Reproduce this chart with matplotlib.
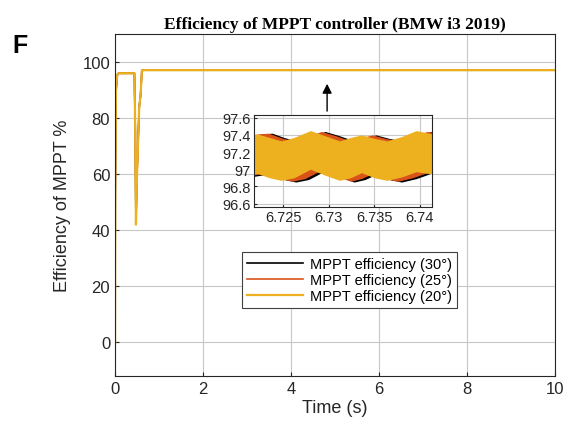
import matplotlib.pyplot as plt
import numpy as np

plt.rcParams['font.family'] = ['Liberation Sans', 'DejaVu Sans']

# main traces (time in s, efficiency in %)
t_main = [0, 0.005, 0.02, 0.05, 0.08, 0.44, 0.46, 0.475, 0.50, 0.55, 0.58, 0.61, 0.65, 10]
eff_30 = [0, 54, 89, 95.3, 96, 96, 76, 43, 61, 84, 88, 96.9, 97.1, 97.1]
eff_25 = [0, 55, 90, 95.4, 96, 96, 75, 42.5, 60, 84, 88, 97.0, 97.1, 97.1]
eff_20 = [0, 55, 90, 95.5, 96, 96, 75, 42, 60, 84, 88, 97.0, 97.1, 97.1]

# zoomed band envelopes around t = 6.73 s
t_z20 = [6.7210, 6.7222, 6.7235, 6.7248, 6.7262, 6.7280, 6.7296, 6.7312,
         6.7324, 6.7336, 6.7350, 6.7364, 6.7380, 6.7396, 6.7410, 6.7422]
hi_20 = [97.39, 97.41, 97.37, 97.33, 97.37, 97.45, 97.39, 97.33,
         97.37, 97.40, 97.36, 97.33, 97.38, 97.45, 97.42, 97.39]
lo_20 = [96.93, 96.95, 96.90, 96.87, 96.90, 97.00, 96.93, 96.87,
         96.90, 96.96, 96.90, 96.87, 96.91, 96.97, 96.95, 96.93]

t_z25 = [6.7198, 6.7210, 6.7222, 6.7234, 6.7247, 6.7260, 6.7274, 6.7292, 6.7308, 6.7324,
         6.7336, 6.7348, 6.7362, 6.7376, 6.7392, 6.7408, 6.7422]
hi_25 = [97.42, 97.39, 97.41, 97.42, 97.37, 97.33, 97.37, 97.44, 97.39, 97.33,
         97.37, 97.40, 97.36, 97.33, 97.38, 97.44, 97.42]
lo_25 = [96.92, 96.92, 96.94, 96.95, 96.89, 96.86, 96.89, 96.99, 96.92, 96.86,
         96.89, 96.95, 96.89, 96.86, 96.90, 96.96, 96.94]

t_z30 = [6.7202, 6.7214, 6.7226, 6.7238, 6.7251, 6.7264, 6.7278, 6.7296, 6.7312, 6.7328,
         6.7340, 6.7352, 6.7366, 6.7380, 6.7396, 6.7412, 6.7426]
hi_30 = [97.42, 97.39, 97.41, 97.42, 97.37, 97.33, 97.37, 97.44, 97.39, 97.33,
         97.37, 97.40, 97.36, 97.33, 97.38, 97.44, 97.42]
lo_30 = [96.91, 96.91, 96.93, 96.94, 96.88, 96.85, 96.88, 96.98, 96.91, 96.85,
         96.88, 96.94, 96.88, 96.85, 96.89, 96.95, 96.93]

c30, c25, c20 = '#000000', '#D95319', '#EDB120'
gridc = '#c8c8c8'

fig = plt.figure(figsize=(5.81, 4.27), dpi=100)
ax = fig.add_axes([0.198, 0.117, 0.757, 0.801])

ax.plot(t_main, eff_30, color=c30, lw=1.2, label="MPPT efficiency (30°)")
ax.plot(t_main, eff_25, color=c25, lw=1.2, label="MPPT efficiency (25°)")
ax.plot(t_main, eff_20, color=c20, lw=1.6, label="MPPT efficiency (20°)")

ax.set_xlim(0, 10)
ax.set_ylim(-12, 110)
ax.set_xticks(np.arange(0, 11, 2))
ax.set_yticks(np.arange(0, 101, 20))
ax.grid(True, color=gridc, lw=0.8)
ax.tick_params(direction='in', length=3, labelsize=12, colors='#262626')
for s in ax.spines.values():
    s.set_color('#262626')
    s.set_linewidth(0.8)
ax.set_xlabel("Time (s)", fontsize=13, color='#262626', labelpad=2)
ax.set_ylabel("Efficiency of MPPT %", fontsize=13, color='#262626', labelpad=8)
ax.set_title("Efficiency of MPPT controller (BMW i3 2019)", family='Liberation Serif',
             fontweight='bold', fontsize=12.5, pad=4)

leg = ax.legend(loc='upper left', bbox_to_anchor=(0.289, 0.363), fontsize=10.5,
                frameon=True, fancybox=False, edgecolor='#404040', framealpha=1,
                handlelength=3.8, borderpad=0.35, labelspacing=0.15, handletextpad=0.5,
                borderaxespad=0)
leg.get_frame().set_linewidth(0.8)

fig.text(0.022, 0.875, "F", fontsize=18, fontweight='bold', family='Liberation Sans')

# zoomed inset
axin = fig.add_axes([0.437, 0.513, 0.306, 0.215])
axin.fill_between(t_z30, lo_30, hi_30, color=c30, lw=0)
axin.fill_between(t_z25, lo_25, hi_25, color=c25, lw=0)
axin.fill_between(t_z20, lo_20, hi_20, color=c20, lw=0)
axin.set_xlim(6.7218, 6.7413)
axin.set_ylim(96.56, 97.63)
axin.set_xticks([6.725, 6.73, 6.735, 6.74])
axin.set_xticklabels(['6.725', '6.73', '6.735', '6.74'])
axin.set_yticks([96.6, 96.8, 97.0, 97.2, 97.4, 97.6])
axin.set_yticklabels(['96.6', '96.8', '97', '97.2', '97.4', '97.6'])
axin.grid(True, color=gridc, lw=0.8)
axin.set_axisbelow(True)
axin.tick_params(direction='in', length=2, labelsize=10.5, colors='#262626', pad=2)
for s in axin.spines.values():
    s.set_color('#262626')
    s.set_linewidth(0.8)

fig.add_artist(plt.Annotation("", xy=(0.563, 0.808), xytext=(0.563, 0.731),
                              xycoords='figure fraction', textcoords='figure fraction',
                              arrowprops=dict(arrowstyle='-|>', color='black', lw=1.0,
                                              mutation_scale=14)))

fig.savefig("out.png", dpi=100)
